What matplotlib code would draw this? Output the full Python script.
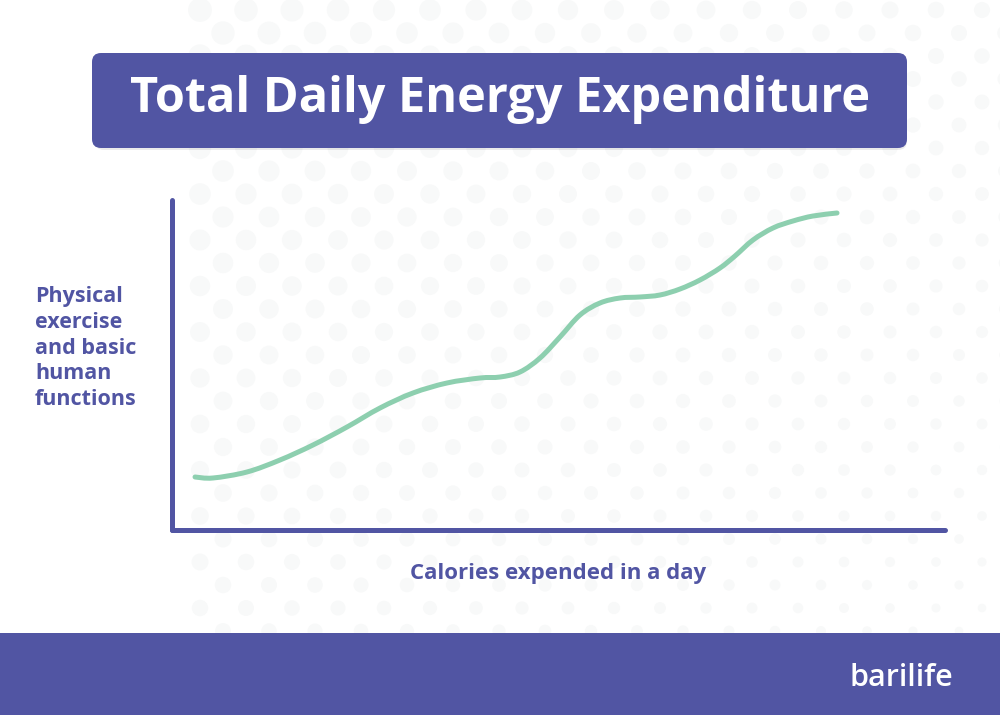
import matplotlib
matplotlib.use("Agg")
import matplotlib.pyplot as plt
from matplotlib.patches import FancyBboxPatch, Rectangle, Circle, PathPatch
from matplotlib.path import Path
import numpy as np

# curve (axis units 0-100 both ways)
calories = [2.98, 5.30, 9.70, 13.97, 18.24, 22.64, 26.91, 31.18, 35.58, 39.84,
            42.43, 45.02, 47.61, 50.19, 52.78, 55.37, 57.96, 60.54, 63.13,
            65.72, 68.31, 70.89, 72.83, 75.16, 77.75, 80.34, 82.92, 86.03]
energy = [16.06, 15.76, 17.58, 21.21, 25.76, 31.21, 36.97, 41.52, 44.55, 46.06,
          46.36, 47.88, 52.12, 58.48, 65.15, 68.79, 70.30, 70.61, 71.21,
          73.03, 75.76, 79.39, 83.03, 87.88, 91.52, 93.64, 95.15, 96.06]

title = "Total Daily Energy Expenditure"
ylabel = "Physical\nexercise\nand basic\nhuman\nfunctions"
xlabel = "Calories expended in a day"
brand = "barilife"

purple = "#5155A3"
green = "#8DCFAF"

W, H = 1000, 715
fig = plt.figure(figsize=(10, 7.15), dpi=100)
fig.patch.set_facecolor("white")

# faint halftone dots in the background
bg = fig.add_axes([0, 0, 1, 1])
bg.set_xlim(0, W)
bg.set_ylim(H, 0)
bg.axis("off")
for row, yy in enumerate(range(10, 640, 23)):
    off = 0 if row % 2 == 0 else 23
    for xx in range(200 + off, 1010, 46):
        r = 12 - 4 * ((xx - 200) / 800) - 4 * (yy / 640)
        bg.add_patch(Circle((xx, yy), max(r, 3), color="#F8F9F9", lw=0, zorder=0))

# footer band
bg.add_patch(Rectangle((0, 633), W, H - 633, color=purple, lw=0, zorder=2))
bg.text(901, 678, brand, color="white", fontsize=22, family="Open Sans",
        weight="semibold", ha="center", va="center", zorder=3)

# title box with a soft shadow
bg.add_patch(FancyBboxPatch((95, 57), 812, 93, boxstyle="round,pad=0,rounding_size=9",
                            color="#00000014", lw=0, zorder=2))
bg.add_patch(FancyBboxPatch((92, 53), 815, 95, boxstyle="round,pad=0,rounding_size=9",
                            color=purple, lw=0, zorder=3))
bg.text(500, 100, title, color="white", fontsize=35, family="Open Sans",
        weight="bold", ha="center", va="center", zorder=4)

bg.text(35, 348, ylabel, color=purple, fontsize=15.5, family="Open Sans", weight="bold",
        ha="left", va="center", linespacing=1.3, zorder=4)
bg.text(558, 573, xlabel, color=purple, fontsize=16, family="Open Sans", weight="bold",
        ha="center", va="center", zorder=4)

# chart axes
ax = fig.add_axes([172 / W, 1 - 530 / H, (945 - 172) / W, (530 - 200) / H])
ax.set_xlim(0, 100)
ax.set_ylim(0, 100)
ax.patch.set_alpha(0)
ax.set_xticks([])
ax.set_yticks([])
for s in ["top", "right"]:
    ax.spines[s].set_visible(False)
for s in ["left", "bottom"]:
    ax.spines[s].set_color(purple)
    ax.spines[s].set_linewidth(3.6)
    ax.spines[s].set_capstyle("round")

# smooth curve through the points (Catmull-Rom as cubic bezier)
pts = np.column_stack([calories, energy])
verts = [pts[0]]
codes = [Path.MOVETO]
for i in range(len(pts) - 1):
    p0 = pts[i - 1] if i > 0 else pts[i]
    p1, p2 = pts[i], pts[i + 1]
    p3 = pts[i + 2] if i + 2 < len(pts) else pts[i + 1]
    verts += [p1 + (p2 - p0) / 6, p2 - (p3 - p1) / 6, p2]
    codes += [Path.CURVE4] * 3
ax.add_patch(PathPatch(Path(verts, codes), fill=False, edgecolor=green, lw=3.6,
                       capstyle="round", clip_on=False))

fig.savefig("out.png", dpi=100)
